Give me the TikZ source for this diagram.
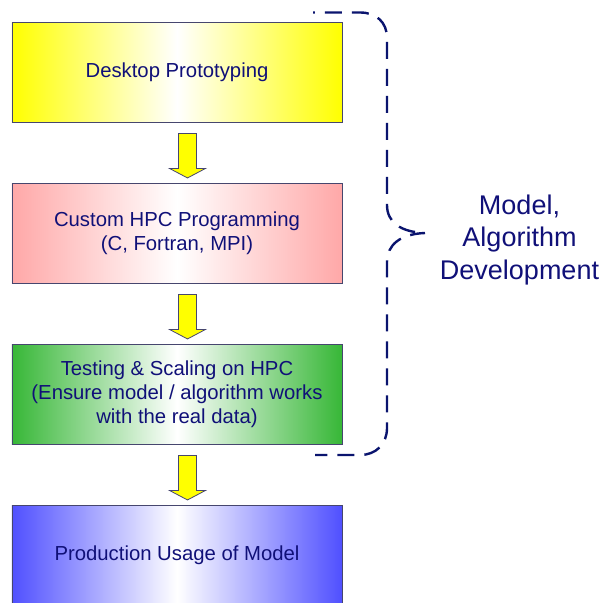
\documentclass[tikz,border=0pt]{standalone}
\usepackage{fontspec}
\setmainfont{Liberation Sans}
\usetikzlibrary{calc}
\definecolor{txtnavy}{RGB}{16,16,120}
\definecolor{edgegray}{RGB}{70,70,110}
\definecolor{cyel}{RGB}{255,255,0}
\definecolor{cpink}{RGB}{255,168,168}
\definecolor{cgreen}{RGB}{55,183,55}
\definecolor{cblue}{RGB}{80,80,255}
\definecolor{bracecol}{RGB}{10,20,110}
\begin{document}
\begin{tikzpicture}[x=1bp,y=-1bp,
  stagebox/.style={draw=edgegray, line width=0.9bp, minimum width=330bp, minimum height=100bp,
    inner sep=0pt, align=center, text=txtnavy, font=\fontsize{20.3bp}{24bp}\selectfont},
  blockarrow/.style={draw=edgegray, line width=0.8bp, fill=cyel, line join=miter},
  bracestyle/.style={draw=bracecol, line width=2.4bp, dash pattern=on 17bp off 10bp},
]
\useasboundingbox (0,0) rectangle (613,603);
\clip (0,0) rectangle (613,603);

\node[stagebox, left color=cyel, right color=cyel, middle color=white] (b1) at (177,72.5) {Desktop Prototyping};
\node[stagebox, left color=cpink, right color=cpink, middle color=white] (b2) at (177,233.5) {Custom HPC Programming\\(C, Fortran, MPI)};
\node[stagebox, left color=cgreen, right color=cgreen, middle color=white] (b3) at (177,394.5) {Testing \& Scaling on HPC\\(Ensure model / algorithm works\\with the real data)};
\node[stagebox, left color=cblue, right color=cblue, middle color=white] (b4) at (177,555.5) {Production Usage of Model};

\foreach \a/\b in {b1/a1,b2/a2,b3/a3}{
  \path (\a.south) ++(10.5,10.5) coordinate (\b);
  \draw[blockarrow] (\b) ++(-9,0) -- ++(18,0) -- ++(0,35) -- ++(9,0) -- ++(-18,9.5) -- ++(-18,-9.5) -- ++(9,0) -- cycle;
}

\coordinate (bt) at (313,12.5);
\coordinate (bb) at (315,455);
\coordinate (tip) at (425,233);
\draw[bracestyle, dash phase=17bp] (tip) .. controls (400,232) and (387,222) .. (387,205) -- (387,38)
  .. controls (387,22) and (376,12.5) .. (360,12.5) -- (bt);
\draw[bracestyle, dash phase=2bp] (tip) .. controls (400,234) and (387,245) .. (387,262) -- (387,428)
  .. controls (387,444) and (376,455) .. (360,455) -- (bb);

\node[align=center, text=txtnavy, font=\fontsize{27bp}{32.5bp}\selectfont] (lbl) at (519.5,240) {Model,\\Algorithm\\Development};
\end{tikzpicture}
\end{document}
